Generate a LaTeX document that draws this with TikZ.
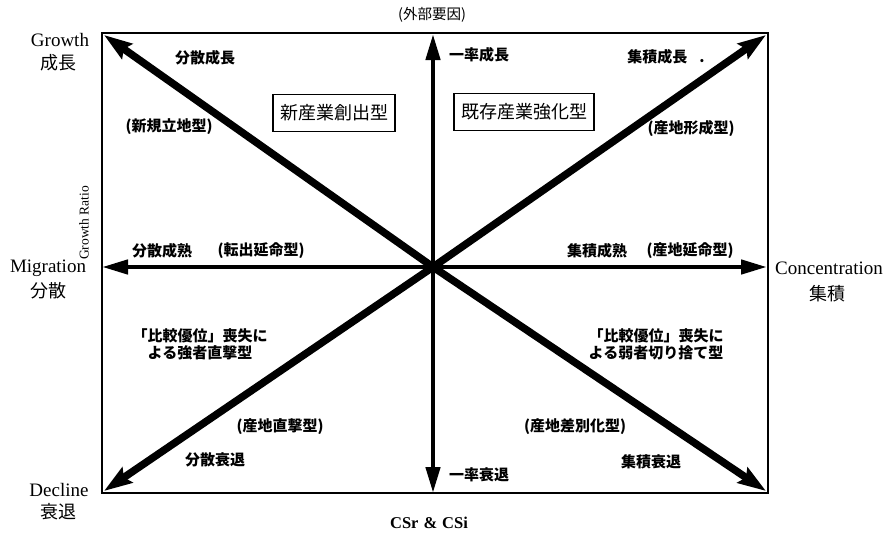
\documentclass[tikz,border=0pt]{standalone}
\usepackage{fontspec}
\setmainfont{Liberation Serif}
\newfontfamily\jp{Noto Sans CJK JP}
\usetikzlibrary{arrows.meta}
\begin{document}
\begin{tikzpicture}[x=1pt,y=-1pt,
  frame/.style={line width=1.6pt},
  diag/.style={line width=7.5pt,-{Stealth[length=28pt,width=18pt,inset=4pt]}},
  axisarrow/.style={line width=4.5pt,-{Triangle[length=26pt,width=14pt]}},
  lab/.style={font=\jp\bfseries\fontsize{15}{17}\selectfont, inner sep=0pt, align=center},
  en/.style={font=\fontsize{19}{21}\selectfont, inner sep=0pt},
  enjp/.style={font=\jp\fontsize{18}{20}\selectfont, inner sep=0pt},
  typebox/.style={draw, line width=1.3pt, font=\jp\fontsize{18}{20}\selectfont, minimum height=37pt, inner xsep=7pt, inner ysep=0pt},
]
\useasboundingbox (0,0) rectangle (893,533);
% frame
\coordinate (tl) at (102,33);
\coordinate (tr) at (768,33);
\coordinate (bl) at (102,493);
\coordinate (br) at (768,493);
\coordinate (c) at (433,267);
\coordinate (top) at (433,34);
\coordinate (bot) at (433,493);
\coordinate (lft) at (102,267);
\coordinate (rgt) at (767,267);
\coordinate (dtl) at (104,35);
\coordinate (dtr) at (766,35);
\coordinate (dbl) at (104,491);
\coordinate (dbr) at (766,491);
\draw[frame] (tl) rectangle (br);
% arrows
\draw[diag] (c) -- (dtl);
\draw[diag] (c) -- (dtr);
\draw[diag] (c) -- (dbl);
\draw[diag] (c) -- (dbr);
\draw[axisarrow] (c) -- (top);
\draw[axisarrow] (c) -- (bot);
\draw[axisarrow] (c) -- (lft);
\draw[axisarrow] (c) -- (rgt);
\fill (c) circle (5pt);
% outer labels
\node[en] (growth) at (60,40) {Growth};
\node[enjp] (growthj) at (58,63) {成長};
\node[en] (migr) at (48,268) {Migration};
\node[enjp] (migrj) at (48,291) {分散};
\node[en] (conc) at (829,268) {Concentration};
\node[enjp] (concj) at (827,294) {集積};
\node[en] (decl) at (59,490) {Decline};
\node[enjp] (declj) at (58,512) {衰退};
\node[font=\fontsize{13.5}{15}\selectfont, inner sep=0pt, rotate=90] (ratio) at (84,223) {Growth Ratio};
\node[font=\bfseries\fontsize{16.5}{18}\selectfont, inner sep=0pt] (cs) at (429,523) {CSr\hspace{5pt}\&\hspace{5pt}CSi};
\node[font=\jp\fontsize{14.5}{17}\selectfont, inner sep=0pt] (ext) at (432,15) {(外部要因)};
% boxes
\node[typebox] (newind) at (334,113) {新産業創出型};
\node[typebox] (oldind) at (524,112) {既存産業強化型};
% inner labels
\node[lab] (l1) at (205,58) {分散成長};
\node[lab] (l2) at (169,127) {(新規立地型)};
\node[lab] (l3) at (479,55) {一率成長};
\node[lab] (l4) at (666,57) {集積成長\hspace{12pt}.};
\node[lab] (l5) at (691,128) {(産地形成型)};
\node[lab] (l6) at (162,251) {分散成熟};
\node[lab] (l7) at (261,251) {(転出延命型)};
\node[lab] (l8) at (597,251) {集積成熟};
\node[lab] (l9) at (690,251) {(産地延命型)};
\node[lab] (l10) at (200,344) {「比較優位」喪失に\\よる強者直撃型};
\node[lab] (l11) at (656,344) {「比較優位」喪失に\\よる弱者切り捨て型};
\node[lab] (l12) at (280,427) {(産地直撃型)};
\node[lab] (l13) at (215,460) {分散衰退};
\node[lab] (l14) at (575,427) {(産地差別化型)};
\node[lab] (l15) at (651,462) {集積衰退};
\node[lab] (l16) at (479,475) {一率衰退};
\end{tikzpicture}
\end{document}
